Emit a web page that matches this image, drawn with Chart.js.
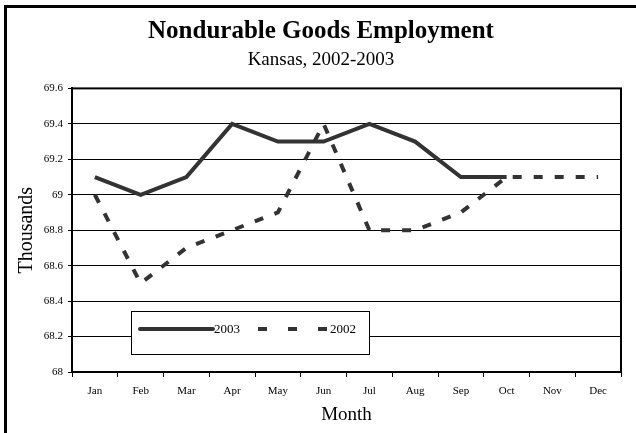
<!DOCTYPE html>
<html>
<head>
<meta charset="utf-8">
<script src="https://cdn.jsdelivr.net/npm/chart.js@4.4.0/dist/chart.umd.min.js"></script>
<style>
  html, body { margin: 0; padding: 0; background: #fff; }
  #wrap { position: relative; width: 636px; height: 433px; overflow: hidden; }
  #frame { position: absolute; left: 4px; top: 5px; width: 640px; height: 440px; border-left: 3px solid #000; border-top: 3px solid #000; box-sizing: border-box; }
  canvas { position: absolute; left: 0; top: 0; }
</style>
</head>
<body>
<div id="wrap">
  <div id="frame"></div>
  <canvas id="c" width="636" height="433"></canvas>
</div>
<script>
const months = ['Jan','Feb','Mar','Apr','May','Jun','Jul','Aug','Sep','Oct','Nov','Dec'];
const series2003 = [69.1, 69.0, 69.1, 69.4, 69.3, 69.3, 69.4, 69.3, 69.1, 69.1, null, null];
const series2002 = [69.0, 68.5, 68.7, 68.8, 68.9, 69.4, 68.8, 68.8, 68.9, 69.1, 69.1, 69.1];
const yTicks = [68, 68.2, 68.4, 68.6, 68.8, 69, 69.2, 69.4, 69.6];

const SERIF = '"Liberation Serif", "Times New Roman", serif';
const LINE = '#333333';

const frameAndLegend = {
  id: 'frameAndLegend',
  afterDraw(chart) {
    const ctx = chart.ctx;
    const a = chart.chartArea;
    ctx.save();
    ctx.strokeStyle = '#000';
    ctx.lineWidth = 2;
    ctx.setLineDash([]);
    ctx.strokeRect(a.left, a.top, a.right - a.left, a.bottom - a.top);

    // legend box
    const bx = 131, by = 311, bw = 238, bh = 43;
    ctx.fillStyle = '#fff';
    ctx.fillRect(bx, by, bw, bh);
    ctx.lineWidth = 1;
    ctx.strokeStyle = '#000';
    ctx.strokeRect(bx + 0.5, by + 0.5, bw, bh);
    const ly = 329;
    const ds = chart.data.datasets;
    ctx.font = '13px ' + SERIF;
    ctx.fillStyle = '#000';
    ctx.textBaseline = 'middle';
    ctx.strokeStyle = ds[0].borderColor;
    ctx.lineWidth = ds[0].borderWidth;
    ctx.lineCap = 'round';
    ctx.beginPath(); ctx.moveTo(140, ly); ctx.lineTo(213, ly); ctx.stroke();
    ctx.lineCap = 'butt';
    ctx.fillText(ds[0].label, 214, ly + 1);
    ctx.strokeStyle = ds[1].borderColor;
    ctx.lineWidth = ds[1].borderWidth;
    ctx.setLineDash([9, 21]);
    ctx.beginPath(); ctx.moveTo(258, ly); ctx.lineTo(328, ly); ctx.stroke();
    ctx.setLineDash([]);
    ctx.fillText(ds[1].label, 330, ly + 1);
    ctx.restore();
  }
};

new Chart(document.getElementById('c'), {
  type: 'line',
  data: {
    labels: months,
    datasets: [
      { label: '2003', data: series2003, borderColor: LINE, borderWidth: 4, pointRadius: 0, fill: false, tension: 0, spanGaps: false },
      { label: '2002', data: series2002, borderColor: LINE, borderWidth: 4, borderDash: [9, 12], pointRadius: 0, fill: false, tension: 0 }
    ]
  },
  options: {
    responsive: false,
    animation: false,
    events: [],
    layout: { padding: { left: 21, right: 15, top: 6, bottom: 0 } },
    plugins: {
      legend: { display: false },
      tooltip: { enabled: false },
      title: {
        display: true,
        text: 'Nondurable Goods Employment',
        color: '#000',
        font: { family: SERIF, size: 25, weight: 'bold', lineHeight: 1.1 },
        padding: { top: 12, bottom: 2 }
      },
      subtitle: {
        display: true,
        text: 'Kansas, 2002-2003',
        color: '#000',
        font: { family: SERIF, size: 19, lineHeight: 1.1 },
        padding: { top: 2, bottom: 18 }
      }
    },
    scales: {
      x: {
        type: 'category',
        offset: true,
        grid: { display: true, offset: true, drawOnChartArea: false, drawTicks: true, tickLength: 5, color: '#000', lineWidth: 1 },
        border: { display: true, color: '#000', width: 2 },
        ticks: { color: '#000', font: { family: SERIF, size: 11 }, padding: 8, maxRotation: 0, autoSkip: false },
        title: { display: true, text: 'Month', color: '#000', font: { family: SERIF, size: 19, lineHeight: 1.1 }, padding: { top: 4, bottom: 8 } },
        afterFit(scale) { scale.height = 61; }
      },
      y: {
        min: 68,
        max: 69.6,
        afterBuildTicks(scale) { scale.ticks = yTicks.map(v => ({ value: v })); },
        grid: { color: '#000', lineWidth: 1, drawTicks: true, tickLength: 4 },
        border: { display: true, color: '#000', width: 2 },
        ticks: { color: '#000', font: { family: SERIF, size: 11 }, padding: 5, callback: v => String(+v.toFixed(1)) },
        title: { display: true, text: 'Thousands', color: '#000', font: { family: SERIF, size: 20, lineHeight: 1.1 }, padding: { top: -5, bottom: 4 } },
        afterFit(scale) { scale.width = 51; }
      }
    }
  },
  plugins: [frameAndLegend]
});
</script>
</body>
</html>
